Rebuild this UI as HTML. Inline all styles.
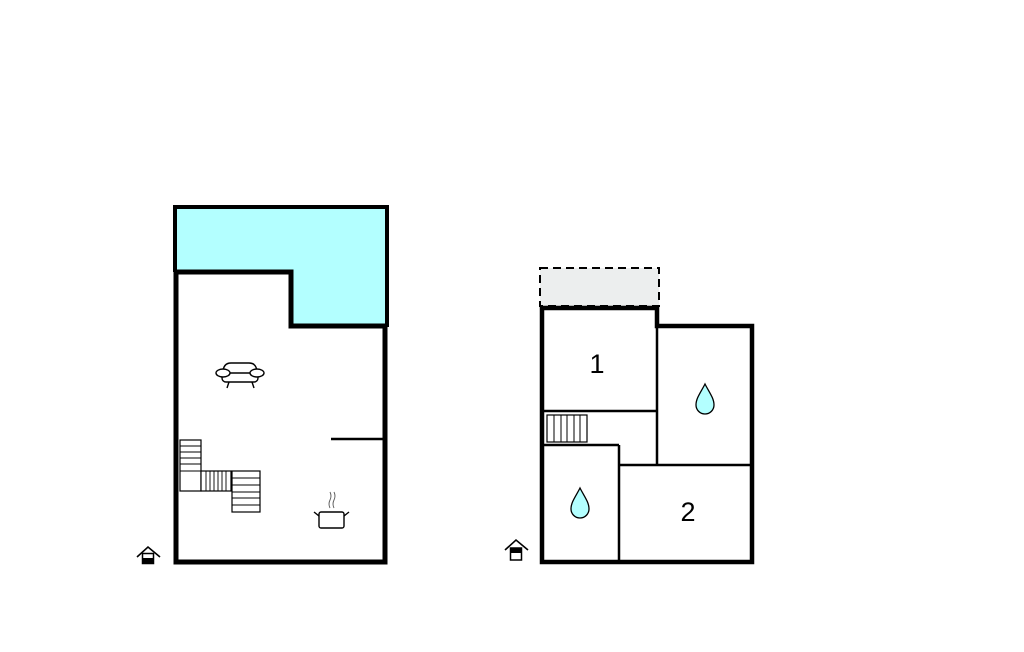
<!DOCTYPE html>
<html><head><style>html,body{margin:0;padding:0;background:#fff}svg{display:block}</style></head>
<body>
<svg width="1024" height="652" viewBox="0 0 1024 652" xmlns="http://www.w3.org/2000/svg">
<rect width="1024" height="652" fill="#fff"/>
<!-- Left plan -->
<polygon points="175,207 387,207 387,326 291,326 291,272 175,272" fill="#b3ffff"/>
<polyline points="175,272 175,207 387,207 387,327" fill="none" stroke="#000" stroke-width="4"/>
<polygon points="176,272 291,272 291,326 385,326 385,562 176,562" fill="none" stroke="#000" stroke-width="5"/>
<line x1="331" y1="439" x2="384" y2="439" stroke="#000" stroke-width="2.5"/>
<!-- sofa -->
<g fill="#fff" stroke="#000" stroke-width="1.4">
<path d="M223,373 q0,-10 8,-10 h18 q8,0 8,10"/>
<rect x="222" y="373" width="36" height="9" rx="4"/>
<ellipse cx="223" cy="373" rx="7" ry="4"/>
<ellipse cx="257" cy="373" rx="7" ry="4"/>
<line x1="229" y1="382" x2="227" y2="388"/><line x1="252" y1="382" x2="254" y2="388"/>
</g>
<!-- stairs -->
<g fill="#fff" stroke="#000" stroke-width="1.2">
<rect x="180" y="440" width="21" height="51"/>
<rect x="201" y="471" width="30" height="20"/>
<rect x="232" y="471" width="28" height="41"/>
</g>
<g stroke="#000" stroke-width="0.9">
<line x1="180" y1="446" x2="201" y2="446"/><line x1="180" y1="452" x2="201" y2="452"/><line x1="180" y1="458" x2="201" y2="458"/><line x1="180" y1="464" x2="201" y2="464"/><line x1="180" y1="471" x2="201" y2="471"/>
<line x1="206" y1="471" x2="206" y2="491"/><line x1="210" y1="471" x2="210" y2="491"/><line x1="214" y1="471" x2="214" y2="491"/><line x1="218" y1="471" x2="218" y2="491"/><line x1="222" y1="471" x2="222" y2="491"/><line x1="226" y1="471" x2="226" y2="491"/>
<line x1="232" y1="478" x2="260" y2="478"/><line x1="232" y1="485" x2="260" y2="485"/><line x1="232" y1="492" x2="260" y2="492"/><line x1="232" y1="498" x2="260" y2="498"/><line x1="232" y1="505" x2="260" y2="505"/>
</g>
<!-- pot -->
<g fill="none" stroke="#000" stroke-width="1.4">
<rect x="319" y="512" width="25" height="16" rx="2" fill="#fff"/>
<line x1="319" y1="516" x2="314" y2="512"/><line x1="344" y1="516" x2="349" y2="512"/>
<path d="M330,508 q-2,-4 0,-8 q2,-4 0,-8" stroke-width="0.9" stroke="#555"/>
<path d="M334,508 q-2,-4 0,-8 q2,-4 0,-8" stroke-width="0.9" stroke="#555"/>
</g>
<!-- house icon left -->
<g>
<polyline points="137,557 148,547 160,557" fill="none" stroke="#000" stroke-width="1.6"/>
<rect x="142.5" y="553.5" width="11" height="10" fill="#fff" stroke="#000" stroke-width="1.5"/>
<rect x="142.5" y="558" width="11" height="6" fill="#000"/>
</g>
<!-- Right plan -->
<rect x="540" y="268" width="119" height="38" fill="#eceeee" stroke="#000" stroke-width="2" stroke-dasharray="8,5"/>
<polygon points="542,308 657,308 657,326 752,326 752,562 542,562" fill="#fff" stroke="#000" stroke-width="4.5"/>
<g stroke="#000" stroke-width="2.5" fill="none">
<line x1="542" y1="411" x2="657" y2="411"/>
<line x1="657" y1="326" x2="657" y2="465"/>
<line x1="619" y1="465" x2="752" y2="465"/>
<line x1="619" y1="445" x2="619" y2="562"/>
<line x1="542" y1="445" x2="619" y2="445"/>
</g>
<rect x="547" y="415" width="40" height="27" fill="#fff" stroke="#000" stroke-width="1.2"/>
<g stroke="#000" stroke-width="1">
<line x1="554" y1="415" x2="554" y2="442"/><line x1="561" y1="415" x2="561" y2="442"/><line x1="567" y1="415" x2="567" y2="442"/><line x1="574" y1="415" x2="574" y2="442"/><line x1="580" y1="415" x2="580" y2="442"/>
</g>
<text x="597" y="373" font-family="Liberation Sans, sans-serif" font-size="27" text-anchor="middle">1</text>
<text x="688" y="521" font-family="Liberation Sans, sans-serif" font-size="27" text-anchor="middle">2</text>
<path d="M705,384 C709,392 714,398 714,405 A9,9 0 0 1 696,405 C696,398 701,392 705,384 Z" fill="#b3ffff" stroke="#000" stroke-width="1.3"/>
<path d="M580,488 C584,496 589,502 589,509 A9,9 0 0 1 571,509 C571,502 576,496 580,488 Z" fill="#b3ffff" stroke="#000" stroke-width="1.3"/>
<g>
<polyline points="505,550 516,540 528,550" fill="none" stroke="#000" stroke-width="1.6"/>
<rect x="510.5" y="548" width="11" height="12" fill="#fff" stroke="#000" stroke-width="1.5"/>
<rect x="510.5" y="548" width="11" height="5" fill="#000"/>
</g>
</svg>
</body></html>
